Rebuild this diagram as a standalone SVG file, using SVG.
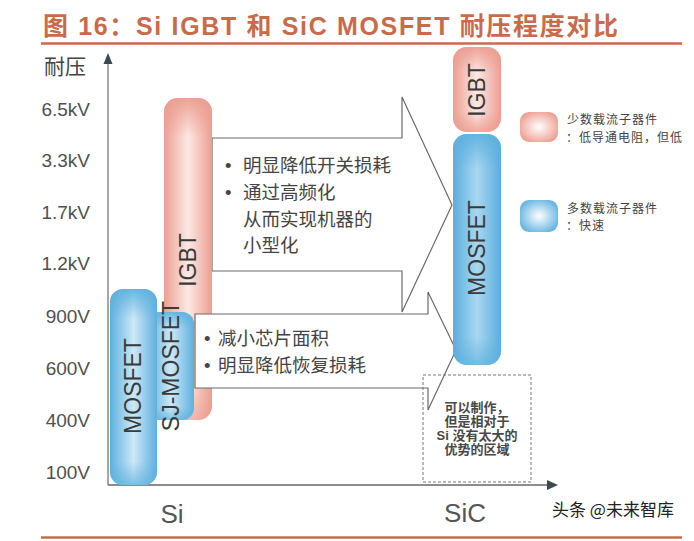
<svg xmlns="http://www.w3.org/2000/svg" width="694" height="541" viewBox="0 0 694 541">
<style>
.title{font-family:"Liberation Sans","Noto Sans CJK SC",sans-serif;font-weight:bold;font-size:25px;fill:#C96B4B}
.ylab{font-family:"Liberation Sans","Noto Sans CJK SC",sans-serif;font-size:19px;fill:#505050;text-anchor:end}
.cat{font-family:"Liberation Sans","Noto Sans CJK SC",sans-serif;font-size:26px;fill:#555;text-anchor:middle}
.bar{font-family:"Liberation Sans","Noto Sans CJK SC",sans-serif;font-size:23px;fill:#3a3a3a;text-anchor:middle}
.note{font-family:"Noto Sans CJK SC",sans-serif;font-size:18.5px;fill:#444}
.bul{font-family:"Liberation Sans",sans-serif;font-size:18.5px;fill:#444}
.leg{font-family:"Noto Sans CJK SC",sans-serif;font-size:12px;letter-spacing:1px;fill:#444}
.box{font-family:"Liberation Sans","Noto Sans CJK SC",sans-serif;font-size:13px;font-weight:bold;fill:#484848;text-anchor:middle}
.arrow{fill:#fff;stroke:#6a6a6a;stroke-width:1.2}
</style>
<defs>
<linearGradient id="pinkH" x1="0" y1="0" x2="1" y2="0">
<stop offset="0" stop-color="#EC9E92"/><stop offset="0.5" stop-color="#FCE9E4"/><stop offset="1" stop-color="#EC9E92"/>
</linearGradient>
<linearGradient id="blueH" x1="0" y1="0" x2="1" y2="0">
<stop offset="0" stop-color="#5DB0DE"/><stop offset="0.5" stop-color="#CDE8F7"/><stop offset="1" stop-color="#5DB0DE"/>
</linearGradient>
<linearGradient id="blueH2" x1="0" y1="0" x2="1" y2="0">
<stop offset="0" stop-color="#5AAEDD"/><stop offset="0.5" stop-color="#A9D7F0"/><stop offset="1" stop-color="#5AAEDD"/>
</linearGradient>
<linearGradient id="pinkV" x1="0" y1="0" x2="0" y2="1">
<stop offset="0" stop-color="#EC9A8D" stop-opacity="0.9"/><stop offset="0.12" stop-color="#EC9A8D" stop-opacity="0"/><stop offset="0.9" stop-color="#EC9A8D" stop-opacity="0"/><stop offset="1" stop-color="#EC9A8D" stop-opacity="0.6"/>
</linearGradient>
<linearGradient id="pinkV2" x1="0" y1="0" x2="0" y2="1">
<stop offset="0" stop-color="#EC9A8D" stop-opacity="0.9"/><stop offset="0.3" stop-color="#EC9A8D" stop-opacity="0"/><stop offset="0.75" stop-color="#EC9A8D" stop-opacity="0"/><stop offset="1" stop-color="#EC9A8D" stop-opacity="0.8"/>
</linearGradient>
<linearGradient id="blueV" x1="0" y1="0" x2="0" y2="1">
<stop offset="0" stop-color="#5DB0DE" stop-opacity="0.9"/><stop offset="0.15" stop-color="#5DB0DE" stop-opacity="0"/><stop offset="0.88" stop-color="#5DB0DE" stop-opacity="0"/><stop offset="1" stop-color="#5DB0DE" stop-opacity="0.7"/>
</linearGradient>
<radialGradient id="pinkR" cx="0.5" cy="0.5" r="0.6">
<stop offset="0" stop-color="#FFFFFF"/><stop offset="1" stop-color="#EC9A8D"/>
</radialGradient>
<radialGradient id="blueR" cx="0.5" cy="0.5" r="0.6">
<stop offset="0" stop-color="#FFFFFF"/><stop offset="1" stop-color="#5DB0DE"/>
</radialGradient>
<clipPath id="clipR"><rect x="0" y="0" width="683" height="541"/></clipPath>
</defs>
<rect width="694" height="541" fill="#fff"/>

<g id="title">
<text class="title" x="43" y="35" textLength="575" lengthAdjust="spacing">图 16：Si IGBT 和 SiC MOSFET 耐压程度对比</text>
<line x1="41" y1="43.5" x2="682" y2="43.5" stroke="#C96B4B" stroke-width="2.5"/>
<line x1="41" y1="537.5" x2="682" y2="537.5" stroke="#C96B4B" stroke-width="2.5"/>
</g>

<g id="axes">
<line x1="108" y1="62" x2="108" y2="485" stroke="#888" stroke-width="1.5"/>
<polygon points="108,53 103.5,64 112.5,64" fill="#3c4a50"/>
<line x1="108" y1="485" x2="548" y2="485" stroke="#666" stroke-width="1.5"/>
<polygon points="558,485 547,480 547,490" fill="#3c4a50"/>
<text x="44" y="74" style="font-family:'Noto Sans CJK SC',sans-serif;font-size:21px;fill:#444">耐压</text>
<text class="ylab" x="90" y="116">6.5kV</text>
<text class="ylab" x="90" y="167">3.3kV</text>
<text class="ylab" x="90" y="219">1.7kV</text>
<text class="ylab" x="90" y="270">1.2kV</text>
<text class="ylab" x="90" y="323">900V</text>
<text class="ylab" x="90" y="375">600V</text>
<text class="ylab" x="90" y="427">400V</text>
<text class="ylab" x="90" y="479">100V</text>
<text class="cat" x="172" y="523">Si</text>
<text class="cat" x="465" y="522">SiC</text>
</g>

<g id="connectors">
<path class="arrow" d="M212,138 H402 V97 L452,205 L402,312 V271 H212 Z"/>
</g>

<g id="si-igbt">
<rect x="164" y="98" width="48" height="322" rx="14" fill="url(#pinkH)"/>
<rect x="164" y="98" width="48" height="322" rx="14" fill="url(#pinkV)"/>
</g>

<g id="arrow2">
<path class="arrow" d="M195,314 H428 V292 L456,350 L428,410 V388 H195 Z"/>
</g>

<g id="si-sjmosfet">
<rect x="148" y="312" width="46" height="108" rx="12" fill="url(#blueH)"/>
<rect x="148" y="312" width="46" height="108" rx="12" fill="url(#blueV)"/>
</g>

<g id="si-mosfet">
<rect x="110" y="289" width="47" height="196" rx="13" fill="url(#blueH)"/>
<rect x="110" y="289" width="47" height="196" rx="13" fill="url(#blueV)"/>
</g>

<g id="sic-igbt">
<rect x="453" y="47" width="48" height="85" rx="14" fill="url(#pinkH)"/>
<rect x="453" y="47" width="48" height="85" rx="14" fill="url(#pinkV2)"/>
</g>

<g id="sic-mosfet">
<rect x="453" y="134" width="48" height="231" rx="14" fill="url(#blueH2)"/>
<rect x="453" y="134" width="48" height="231" rx="14" fill="url(#blueV)"/>
</g>

<g id="bar-labels">
<text class="bar" transform="translate(133,386) rotate(-90)" y="8.3">MOSFET</text>
<text class="bar" transform="translate(171,366) rotate(-90)" y="8.3">SJ-MOSFET</text>
<text class="bar" transform="translate(188,260) rotate(-90)" y="8.3">IGBT</text>
<text class="bar" transform="translate(477,90) rotate(-90)" y="8.3">IGBT</text>
<text class="bar" transform="translate(477,248) rotate(-90)" y="8.3">MOSFET</text>
</g>

<g id="note1">
<text class="bul" x="225" y="172">•</text>
<text class="note" x="243" y="172">明显降低开关损耗</text>
<text class="bul" x="225" y="199">•</text>
<text class="note" y="199"><tspan x="243">通过高频化</tspan><tspan x="243" dy="27">从而实现机器的</tspan><tspan x="243" dy="26">小型化</tspan></text>
</g>

<g id="note2">
<text class="bul" x="204" y="345">•</text>
<text class="note" x="218" y="345">减小芯片面积</text>
<text class="bul" x="204" y="372">•</text>
<text class="note" x="218" y="372">明显降低恢复损耗</text>
</g>

<g id="dashed-area">
<rect x="423" y="375" width="108" height="107" fill="none" stroke="#777" stroke-width="1" stroke-dasharray="3,2"/>
<text class="box" y="412"><tspan x="477">可以制作，</tspan><tspan x="477" dy="14">但是相对于</tspan><tspan x="477" dy="14">Si 没有太大的</tspan><tspan x="477" dy="14">优势的区域</tspan></text>
</g>

<g id="legend-minority">
<rect x="520" y="112" width="38" height="30" rx="9" fill="url(#pinkR)"/>
<text class="leg" x="567" y="124">少数载流子器件</text>
<text class="leg" x="566" y="141.5" clip-path="url(#clipR)">：低导通电阻，但低速</text>
</g>

<g id="legend-majority">
<rect x="520" y="200" width="38" height="32" rx="9" fill="url(#blueR)"/>
<text class="leg" x="567" y="212.5">多数载流子器件</text>
<text class="leg" x="566" y="230">：快速</text>
</g>

<g id="watermark">
<text x="552" y="516" style="font-family:'Noto Sans CJK SC',sans-serif;font-size:17px;fill:#222">头条 @未来智库</text>
</g>
</svg>
